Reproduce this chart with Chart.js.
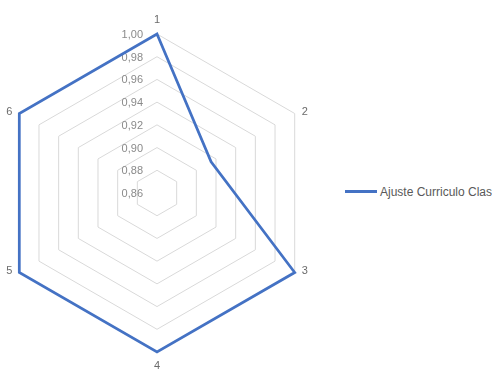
<!DOCTYPE html>
<html>
<head>
<meta charset="utf-8">
<script src="https://cdn.jsdelivr.net/npm/chart.js@4/dist/chart.umd.min.js"></script>
<style>
  html, body { margin: 0; padding: 0; width: 492px; height: 372px; overflow: hidden; background: #fff; }
  #wrap { position: absolute; left: -2px; top: 0; width: 318px; height: 387px; }
  #legend { position: absolute; left: 345px; top: 185px; white-space: nowrap;
            font: 12px "Liberation Sans", sans-serif; color: #595959; }
  #legend .swatch { display: inline-block; width: 32px; height: 3px; vertical-align: middle;
                    margin-right: 3px; position: relative; top: -1px; }
</style>
</head>
<body>
<div id="wrap"><canvas id="chart"></canvas></div>
<div id="legend"></div>
<script>
// --- Daten ---
const categories = ['1', '2', '3', '4', '5', '6'];
const seriesName = 'Ajuste Curriculo Clase';
const seriesValues = [1.00, 0.915, 1.00, 1.00, 1.00, 1.00];
const tickLabels = ['0,86', '0,88', '0,90', '0,92', '0,94', '0,96', '0,98', '1,00'];

const scaleMin = 0.86;
const scaleMax = 1.00;
const scaleStep = 0.02;
const lineColor = '#4472C4';
const fontFamily = '"Liberation Sans", sans-serif';

// --- Tick- und Achsenbeschriftungen selbst zeichnen (Excel-Look) ---
const labelPlugin = {
    id: 'excelLabels',
    beforeDatasetsDraw(chart) {
        const scale = chart.scales.r;
        const ctx = chart.ctx;
        ctx.save();
        ctx.font = '11px ' + fontFamily;
        ctx.textBaseline = 'middle';

        // Tick-Werte links neben der senkrechten Achse
        ctx.fillStyle = '#8a8a8a';
        ctx.textAlign = 'right';
        scale.ticks.forEach((tick, i) => {
            const dist = scale.getDistanceFromCenterForValue(tick.value);
            ctx.fillText(tickLabels[i], scale.xCenter - 14, scale.yCenter - dist + 1);
        });

        // Kategorien 1..6 an den Ecken
        ctx.fillStyle = '#6b6b6b';
        categories.forEach((label, i) => {
            const angle = scale.getIndexAngle(i);
            const sin = Math.sin(angle);
            if (Math.abs(sin) < 0.01) {
                const p = scale.getPointPosition(i, scale.drawingArea + 14);
                ctx.textAlign = 'center';
                ctx.fillText(label, p.x, p.y);
            } else {
                const p = scale.getPointPosition(i, scale.drawingArea);
                ctx.textAlign = sin > 0 ? 'left' : 'right';
                ctx.fillText(label, p.x + (sin > 0 ? 7 : -7), p.y - 2);
            }
        });
        ctx.restore();
    }
};

const chart = new Chart(document.getElementById('chart'), {
    type: 'radar',
    data: {
        labels: categories,
        datasets: [{
            label: seriesName,
            data: seriesValues,
            borderColor: lineColor,
            borderWidth: 2.75,
            fill: false,
            pointRadius: 0,
            tension: 0
        }]
    },
    options: {
        responsive: true,
        maintainAspectRatio: false,
        animation: false,
        layout: { padding: 0 },
        plugins: {
            legend: { display: false },
            tooltip: { enabled: false }
        },
        scales: {
            r: {
                min: scaleMin,
                max: scaleMax,
                ticks: { stepSize: scaleStep, display: false },
                grid: { color: '#d9d9d9', lineWidth: 1 },
                angleLines: { display: false },
                pointLabels: { display: false }
            }
        }
    },
    plugins: [labelPlugin]
});

// --- Legende ---
const legend = document.getElementById('legend');
chart.data.datasets.forEach(ds => {
    const sw = document.createElement('span');
    sw.className = 'swatch';
    sw.style.background = ds.borderColor;
    legend.appendChild(sw);
    legend.appendChild(document.createTextNode(ds.label));
});
</script>
</body>
</html>
